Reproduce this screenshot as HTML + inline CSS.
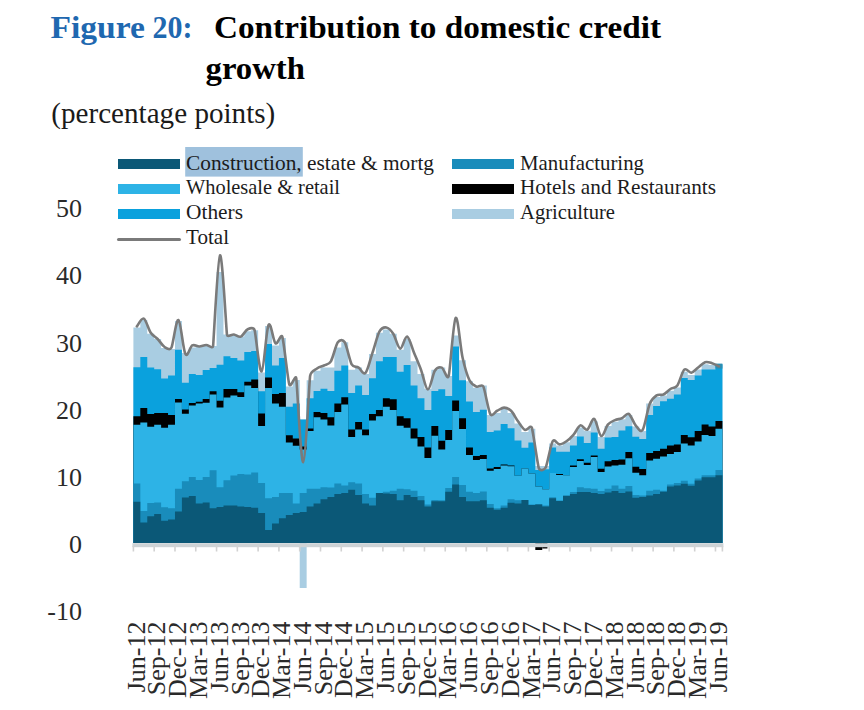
<!DOCTYPE html>
<html><head><meta charset="utf-8"><style>
html,body{margin:0;padding:0;background:#fff;width:864px;height:710px;overflow:hidden}
svg{display:block}
text{font-family:"Liberation Serif", serif}
</style></head><body>
<svg width="864" height="710" viewBox="0 0 864 710" font-family="Liberation Serif, serif" fill="#1c1c1c">
<rect width="864" height="710" fill="#fff"/>

<text x="50.4" y="37.7" font-size="32" font-weight="bold" fill="#1F68B0" textLength="94.5" lengthAdjust="spacingAndGlyphs">Figure</text><text x="152.5" y="37.7" font-size="32" font-weight="bold" fill="#1F68B0" textLength="40" lengthAdjust="spacingAndGlyphs">20:</text>
<text x="214" y="37.7" font-size="32" font-weight="bold" fill="#000" textLength="447" lengthAdjust="spacingAndGlyphs">Contribution to domestic credit</text>
<text x="205.5" y="79" font-size="32" font-weight="bold" fill="#000" textLength="99.5" lengthAdjust="spacingAndGlyphs">growth</text>
<text x="51.3" y="122.8" font-size="29" fill="#1a1a1a" textLength="224" lengthAdjust="spacingAndGlyphs">(percentage points)</text>


<rect x="185.2" y="147" width="117.6" height="29.6" fill="#9FC1DD"/>
<rect x="118" y="159" width="62" height="10" fill="#0B5877"/>
<rect x="118" y="184" width="62" height="10" fill="#2DB3E6"/>
<rect x="118" y="209" width="62" height="10" fill="#0AA1DD"/>
<rect x="117" y="238" width="64" height="3" rx="1.5" fill="#7A7A7A"/>
<rect x="452" y="159" width="62" height="10" fill="#198CBB"/>
<rect x="452" y="184" width="62" height="10" fill="#000"/>
<rect x="452" y="209" width="62" height="10" fill="#A9CDE2"/>
<text x="186" y="169.5" font-size="21" textLength="248" lengthAdjust="spacingAndGlyphs">Construction, estate &amp; mortg</text>
<text x="186" y="194" font-size="21" textLength="154" lengthAdjust="spacingAndGlyphs">Wholesale &amp; retail</text>
<text x="186" y="219" font-size="21" textLength="57" lengthAdjust="spacingAndGlyphs">Others</text>
<text x="186" y="244" font-size="21" textLength="43" lengthAdjust="spacingAndGlyphs">Total</text>
<text x="520" y="169.5" font-size="21" textLength="124" lengthAdjust="spacingAndGlyphs">Manufacturing</text>
<text x="520" y="194" font-size="21" textLength="196" lengthAdjust="spacingAndGlyphs">Hotels and Restaurants</text>
<text x="520" y="219" font-size="21" textLength="95" lengthAdjust="spacingAndGlyphs">Agriculture</text>

<text x="82" y="217.4" text-anchor="end" font-size="26" fill="#2a2a2a">50</text><text x="82" y="284.4" text-anchor="end" font-size="26" fill="#2a2a2a">40</text><text x="82" y="351.5" text-anchor="end" font-size="26" fill="#2a2a2a">30</text><text x="82" y="418.5" text-anchor="end" font-size="26" fill="#2a2a2a">20</text><text x="82" y="485.6" text-anchor="end" font-size="26" fill="#2a2a2a">10</text><text x="82" y="552.6" text-anchor="end" font-size="26" fill="#2a2a2a">0</text><text x="82" y="619.6" text-anchor="end" font-size="26" fill="#2a2a2a">-10</text>
<g><path d="M133.40,543.0L133.40,327.50L140.33,327.50L140.33,320.00L147.26,320.00L147.26,333.80L154.19,333.80L154.19,339.00L161.12,339.00L161.12,348.00L168.05,348.00L168.05,349.00L174.98,349.00L174.98,321.00L181.91,321.00L181.91,353.00L188.84,353.00L188.84,347.50L195.76,347.50L195.76,346.50L202.69,346.50L202.69,346.00L209.62,346.00L209.62,346.00L216.55,346.00L216.55,272.00L223.48,272.00L223.48,334.50L230.41,334.50L230.41,334.50L237.34,334.50L237.34,336.60L244.27,336.60L244.27,331.30L251.20,331.30L251.20,330.30L258.13,330.30L258.13,372.50L265.06,372.50L265.06,326.00L271.99,326.00L271.99,345.40L278.92,345.40L278.92,338.00L285.85,338.00L285.85,386.60L292.78,386.60L292.78,380.00L299.71,380.00L299.71,419.40L306.64,419.40L306.64,380.30L313.56,380.30L313.56,370.80L320.49,370.80L320.49,367.60L327.42,367.60L327.42,367.60L334.35,367.60L334.35,347.50L341.28,347.50L341.28,342.30L348.21,342.30L348.21,369.70L355.14,369.70L355.14,367.60L362.07,367.60L362.07,374.00L369.00,374.00L369.00,353.90L375.93,353.90L375.93,332.70L382.86,332.70L382.86,329.60L389.79,329.60L389.79,333.80L396.72,333.80L396.72,349.70L403.65,349.70L403.65,339.00L410.58,339.00L410.58,361.30L417.51,361.30L417.51,374.00L424.44,374.00L424.44,388.70L431.36,388.70L431.36,369.70L438.29,369.70L438.29,367.60L445.22,367.60L445.22,376.00L452.15,376.00L452.15,335.50L459.08,335.50L459.08,360.20L466.01,360.20L466.01,381.30L472.94,381.30L472.94,387.70L479.87,387.70L479.87,385.40L486.80,385.40L486.80,415.00L493.73,415.00L493.73,412.90L500.66,412.90L500.66,408.70L507.59,408.70L507.59,412.90L514.52,412.90L514.52,423.50L521.45,423.50L521.45,431.90L528.38,431.90L528.38,428.70L535.31,428.70L535.31,466.00L542.24,466.00L542.24,466.00L549.16,466.00L549.16,443.40L556.09,443.40L556.09,445.50L563.02,445.50L563.02,442.30L569.95,442.30L569.95,436.00L576.88,436.00L576.88,427.50L583.81,427.50L583.81,430.70L590.74,430.70L590.74,421.20L597.67,421.20L597.67,437.00L604.60,437.00L604.60,426.00L611.53,426.00L611.53,421.80L618.46,421.80L618.46,419.20L625.39,419.20L625.39,415.00L632.32,415.00L632.32,426.60L639.25,426.60L639.25,430.90L646.18,430.90L646.18,403.40L653.11,403.40L653.11,397.00L660.04,397.00L660.04,395.40L666.96,395.40L666.96,390.70L673.89,390.70L673.89,387.50L680.82,387.50L680.82,371.70L687.75,371.70L687.75,374.90L694.68,374.90L694.68,369.60L701.61,369.60L701.61,364.30L708.54,364.30L708.54,365.00L715.47,365.00L715.47,364.30L722.40,364.30L722.40,543.0Z" fill="#A9CDE2"/><path d="M133.40,543.0L133.40,367.20L140.33,367.20L140.33,357.00L147.26,357.00L147.26,367.60L154.19,367.60L154.19,369.30L161.12,369.30L161.12,378.60L168.05,378.60L168.05,375.60L174.98,375.60L174.98,349.70L181.91,349.70L181.91,382.80L188.84,382.80L188.84,374.00L195.76,374.00L195.76,375.00L202.69,375.00L202.69,370.00L209.62,370.00L209.62,368.00L216.55,368.00L216.55,364.80L223.48,364.80L223.48,356.30L230.41,356.30L230.41,358.00L237.34,358.00L237.34,360.60L244.27,360.60L244.27,352.00L251.20,352.00L251.20,351.00L258.13,351.00L258.13,391.20L265.06,391.20L265.06,344.00L271.99,344.00L271.99,365.50L278.92,365.50L278.92,358.00L285.85,358.00L285.85,406.70L292.78,406.70L292.78,403.50L299.71,403.50L299.71,419.40L306.64,419.40L306.64,398.20L313.56,398.20L313.56,390.90L320.49,390.90L320.49,388.70L327.42,388.70L327.42,390.90L334.35,390.90L334.35,370.80L341.28,370.80L341.28,365.50L348.21,365.50L348.21,393.00L355.14,393.00L355.14,385.60L362.07,385.60L362.07,395.00L369.00,395.00L369.00,378.20L375.93,378.20L375.93,361.30L382.86,361.30L382.86,357.00L389.79,357.00L389.79,357.00L396.72,357.00L396.72,371.80L403.65,371.80L403.65,365.00L410.58,365.00L410.58,385.60L417.51,385.60L417.51,398.20L424.44,398.20L424.44,409.90L431.36,409.90L431.36,390.90L438.29,390.90L438.29,389.20L445.22,389.20L445.22,396.10L452.15,396.10L452.15,346.50L459.08,346.50L459.08,380.30L466.01,380.30L466.01,401.40L472.94,401.40L472.94,412.00L479.87,412.00L479.87,409.70L486.80,409.70L486.80,431.90L493.73,431.90L493.73,430.40L500.66,430.40L500.66,424.00L507.59,424.00L507.59,428.30L514.52,428.30L514.52,440.40L521.45,440.40L521.45,447.80L528.38,447.80L528.38,442.50L535.31,442.50L535.31,470.00L542.24,470.00L542.24,469.30L549.16,469.30L549.16,447.60L556.09,447.60L556.09,451.80L563.02,451.80L563.02,451.80L569.95,451.80L569.95,445.50L576.88,445.50L576.88,436.60L583.81,436.60L583.81,443.00L590.74,443.00L590.74,432.40L597.67,432.40L597.67,448.70L604.60,448.70L604.60,437.50L611.53,437.50L611.53,437.00L618.46,437.00L618.46,430.40L625.39,430.40L625.39,426.20L632.32,426.20L632.32,436.80L639.25,436.80L639.25,438.90L646.18,438.90L646.18,415.00L653.11,415.00L653.11,405.90L660.04,405.90L660.04,401.30L666.96,401.30L666.96,398.70L673.89,398.70L673.89,394.50L680.82,394.50L680.82,378.00L687.75,378.00L687.75,380.10L694.68,380.10L694.68,375.50L701.61,375.50L701.61,369.60L708.54,369.60L708.54,369.60L715.47,369.60L715.47,364.30L722.40,364.30L722.40,543.0Z" fill="#0AA1DD"/><path d="M133.40,543.0L133.40,416.20L140.33,416.20L140.33,408.00L147.26,408.00L147.26,414.00L154.19,414.00L154.19,413.00L161.12,413.00L161.12,413.00L168.05,413.00L168.05,415.00L174.98,415.00L174.98,398.90L181.91,398.90L181.91,409.40L188.84,409.40L188.84,403.00L195.76,403.00L195.76,401.80L202.69,401.80L202.69,399.00L209.62,399.00L209.62,391.20L216.55,391.20L216.55,400.70L223.48,400.70L223.48,389.00L230.41,389.00L230.41,389.00L237.34,389.00L237.34,392.30L244.27,392.30L244.27,381.70L251.20,381.70L251.20,379.60L258.13,379.60L258.13,413.40L265.06,413.40L265.06,377.50L271.99,377.50L271.99,394.00L278.92,394.00L278.92,393.00L285.85,393.00L285.85,435.20L292.78,435.20L292.78,438.40L299.71,438.40L299.71,446.40L306.64,446.40L306.64,428.50L313.56,428.50L313.56,412.00L320.49,412.00L320.49,413.00L327.42,413.00L327.42,417.30L334.35,417.30L334.35,403.50L341.28,403.50L341.28,397.20L348.21,397.20L348.21,429.50L355.14,429.50L355.14,422.00L362.07,422.00L362.07,429.50L369.00,429.50L369.00,414.00L375.93,414.00L375.93,409.90L382.86,409.90L382.86,398.20L389.79,398.20L389.79,399.30L396.72,399.30L396.72,416.20L403.65,416.20L403.65,418.30L410.58,418.30L410.58,428.50L417.51,428.50L417.51,436.90L424.44,436.90L424.44,447.50L431.36,447.50L431.36,426.00L438.29,426.00L438.29,440.70L445.22,440.70L445.22,430.10L452.15,430.10L452.15,400.40L459.08,400.40L459.08,418.30L466.01,418.30L466.01,447.50L472.94,447.50L472.94,456.00L479.87,456.00L479.87,454.90L486.80,454.90L486.80,468.60L493.73,468.60L493.73,466.90L500.66,466.90L500.66,464.40L507.59,464.40L507.59,465.40L514.52,465.40L514.52,475.80L521.45,475.80L521.45,468.50L528.38,468.50L528.38,473.50L535.31,473.50L535.31,486.50L542.24,486.50L542.24,489.30L549.16,489.30L549.16,473.00L556.09,473.00L556.09,474.00L563.02,474.00L563.02,475.20L569.95,475.20L569.95,465.60L576.88,465.60L576.88,459.20L583.81,459.20L583.81,462.80L590.74,462.80L590.74,455.60L597.67,455.60L597.67,468.70L604.60,468.70L604.60,461.30L611.53,461.30L611.53,459.90L618.46,459.90L618.46,459.40L625.39,459.40L625.39,452.00L632.32,452.00L632.32,466.80L639.25,466.80L639.25,468.90L646.18,468.90L646.18,453.00L653.11,453.00L653.11,450.90L660.04,450.90L660.04,448.80L666.96,448.80L666.96,445.60L673.89,445.60L673.89,444.60L680.82,444.60L680.82,435.00L687.75,435.00L687.75,437.20L694.68,437.20L694.68,430.90L701.61,430.90L701.61,424.50L708.54,424.50L708.54,426.60L715.47,426.60L715.47,421.00L722.40,421.00L722.40,543.0Z" fill="#000000"/><path d="M133.40,543.0L133.40,424.70L140.33,424.70L140.33,422.50L147.26,422.50L147.26,426.80L154.19,426.80L154.19,424.70L161.12,424.70L161.12,427.80L168.05,427.80L168.05,424.70L174.98,424.70L174.98,402.50L181.91,402.50L181.91,413.70L188.84,413.70L188.84,405.60L195.76,405.60L195.76,403.50L202.69,403.50L202.69,402.80L209.62,402.80L209.62,394.40L216.55,394.40L216.55,407.50L223.48,407.50L223.48,397.50L230.41,397.50L230.41,395.40L237.34,395.40L237.34,397.00L244.27,397.00L244.27,385.50L251.20,385.50L251.20,388.00L258.13,388.00L258.13,426.00L265.06,426.00L265.06,388.00L271.99,388.00L271.99,403.50L278.92,403.50L278.92,406.70L285.85,406.70L285.85,442.50L292.78,442.50L292.78,445.80L299.71,445.80L299.71,449.60L306.64,449.60L306.64,431.00L313.56,431.00L313.56,417.30L320.49,417.30L320.49,419.40L327.42,419.40L327.42,425.50L334.35,425.50L334.35,412.00L341.28,412.00L341.28,404.60L348.21,404.60L348.21,437.00L355.14,437.00L355.14,429.50L362.07,429.50L362.07,435.20L369.00,435.20L369.00,420.40L375.93,420.40L375.93,416.20L382.86,416.20L382.86,406.70L389.79,406.70L389.79,409.90L396.72,409.90L396.72,425.70L403.65,425.70L403.65,427.80L410.58,427.80L410.58,438.60L417.51,438.60L417.51,446.40L424.44,446.40L424.44,458.00L431.36,458.00L431.36,435.80L438.29,435.80L438.29,449.60L445.22,449.60L445.22,440.00L452.15,440.00L452.15,410.90L459.08,410.90L459.08,428.90L466.01,428.90L466.01,454.90L472.94,454.90L472.94,460.10L479.87,460.10L479.87,459.10L486.80,459.10L486.80,470.70L493.73,470.70L493.73,469.00L500.66,469.00L500.66,465.60L507.59,465.60L507.59,466.20L514.52,466.20L514.52,475.80L521.45,475.80L521.45,468.50L528.38,468.50L528.38,473.50L535.31,473.50L535.31,486.50L542.24,486.50L542.24,489.30L549.16,489.30L549.16,473.00L556.09,473.00L556.09,475.00L563.02,475.00L563.02,475.20L569.95,475.20L569.95,467.00L576.88,467.00L576.88,461.00L583.81,461.00L583.81,465.00L590.74,465.00L590.74,457.10L597.67,457.10L597.67,471.90L604.60,471.90L604.60,466.60L611.53,466.60L611.53,465.60L618.46,465.60L618.46,464.70L625.39,464.70L625.39,458.30L632.32,458.30L632.32,472.70L639.25,472.70L639.25,475.20L646.18,475.20L646.18,460.40L653.11,460.40L653.11,458.70L660.04,458.70L660.04,456.60L666.96,456.60L666.96,454.10L673.89,454.10L673.89,452.00L680.82,452.00L680.82,443.50L687.75,443.50L687.75,445.60L694.68,445.60L694.68,441.40L701.61,441.40L701.61,435.00L708.54,435.00L708.54,436.10L715.47,436.10L715.47,428.70L722.40,428.70L722.40,543.0Z" fill="#2DB3E6"/><path d="M133.40,543.0L133.40,483.50L140.33,483.50L140.33,511.00L147.26,511.00L147.26,503.00L154.19,503.00L154.19,502.50L161.12,502.50L161.12,507.30L168.05,507.30L168.05,508.20L174.98,508.20L174.98,488.70L181.91,488.70L181.91,481.30L188.84,481.30L188.84,477.00L195.76,477.00L195.76,480.00L202.69,480.00L202.69,477.00L209.62,477.00L209.62,470.30L216.55,470.30L216.55,487.20L223.48,487.20L223.48,480.20L230.41,480.20L230.41,475.40L237.34,475.40L237.34,473.90L244.27,473.90L244.27,474.50L251.20,474.50L251.20,472.40L258.13,472.40L258.13,483.00L265.06,483.00L265.06,498.20L271.99,498.20L271.99,497.00L278.92,497.00L278.92,492.90L285.85,492.90L285.85,492.90L292.78,492.90L292.78,503.50L299.71,503.50L299.71,492.90L306.64,492.90L306.64,488.70L313.56,488.70L313.56,488.70L320.49,488.70L320.49,487.20L327.42,487.20L327.42,487.60L334.35,487.60L334.35,483.40L341.28,483.40L341.28,485.50L348.21,485.50L348.21,482.30L355.14,482.30L355.14,483.40L362.07,483.40L362.07,494.00L369.00,494.00L369.00,497.80L375.93,497.80L375.93,492.90L382.86,492.90L382.86,491.80L389.79,491.80L389.79,490.80L396.72,490.80L396.72,488.70L403.65,488.70L403.65,489.30L410.58,489.30L410.58,490.80L417.51,490.80L417.51,496.00L424.44,496.00L424.44,504.50L431.36,504.50L431.36,499.90L438.29,499.90L438.29,500.30L445.22,500.30L445.22,488.00L452.15,488.00L452.15,477.00L459.08,477.00L459.08,485.00L466.01,485.00L466.01,491.80L472.94,491.80L472.94,492.90L479.87,492.90L479.87,491.40L486.80,491.40L486.80,504.00L493.73,504.00L493.73,508.30L500.66,508.30L500.66,505.60L507.59,505.60L507.59,499.20L514.52,499.20L514.52,500.30L521.45,500.30L521.45,499.90L528.38,499.90L528.38,504.50L535.31,504.50L535.31,504.00L542.24,504.00L542.24,505.60L549.16,505.60L549.16,497.30L556.09,497.30L556.09,500.40L563.02,500.40L563.02,495.80L569.95,495.80L569.95,492.00L576.88,492.00L576.88,487.30L583.81,487.30L583.81,488.20L590.74,488.20L590.74,488.80L597.67,488.80L597.67,491.00L604.60,491.00L604.60,488.80L611.53,488.80L611.53,485.60L618.46,485.60L618.46,488.70L625.39,488.70L625.39,485.90L632.32,485.90L632.32,495.00L639.25,495.00L639.25,495.60L646.18,495.60L646.18,490.80L653.11,490.80L653.11,489.70L660.04,489.70L660.04,490.80L666.96,490.80L666.96,484.40L673.89,484.40L673.89,483.00L680.82,483.00L680.82,480.80L687.75,480.80L687.75,483.70L694.68,483.70L694.68,478.40L701.61,478.40L701.61,475.20L708.54,475.20L708.54,475.20L715.47,475.20L715.47,470.00L722.40,470.00L722.40,543.0Z" fill="#198CBB"/><path d="M133.40,543.0L133.40,501.80L140.33,501.80L140.33,522.50L147.26,522.50L147.26,516.20L154.19,516.20L154.19,514.00L161.12,514.00L161.12,520.80L168.05,520.80L168.05,519.40L174.98,519.40L174.98,511.60L181.91,511.60L181.91,497.60L188.84,497.60L188.84,496.10L195.76,496.10L195.76,503.50L202.69,503.50L202.69,502.40L209.62,502.40L209.62,508.30L216.55,508.30L216.55,507.00L223.48,507.00L223.48,505.60L230.41,505.60L230.41,505.60L237.34,505.60L237.34,506.60L244.27,506.60L244.27,507.00L251.20,507.00L251.20,507.70L258.13,507.70L258.13,513.00L265.06,513.00L265.06,529.90L271.99,529.90L271.99,523.50L278.92,523.50L278.92,518.20L285.85,518.20L285.85,515.00L292.78,515.00L292.78,513.00L299.71,513.00L299.71,512.00L306.64,512.00L306.64,506.60L313.56,506.60L313.56,503.50L320.49,503.50L320.49,499.20L327.42,499.20L327.42,497.00L334.35,497.00L334.35,494.00L341.28,494.00L341.28,492.90L348.21,492.90L348.21,489.70L355.14,489.70L355.14,495.00L362.07,495.00L362.07,503.50L369.00,503.50L369.00,505.60L375.93,505.60L375.93,492.90L382.86,492.90L382.86,493.50L389.79,493.50L389.79,494.00L396.72,494.00L396.72,500.30L403.65,500.30L403.65,495.00L410.58,495.00L410.58,497.00L417.51,497.00L417.51,500.30L424.44,500.30L424.44,506.60L431.36,506.60L431.36,501.30L438.29,501.30L438.29,501.30L445.22,501.30L445.22,491.80L452.15,491.80L452.15,484.40L459.08,484.40L459.08,497.00L466.01,497.00L466.01,501.30L472.94,501.30L472.94,501.30L479.87,501.30L479.87,500.30L486.80,500.30L486.80,507.70L493.73,507.70L493.73,509.80L500.66,509.80L500.66,507.70L507.59,507.70L507.59,502.80L514.52,502.80L514.52,503.50L521.45,503.50L521.45,499.90L528.38,499.90L528.38,504.90L535.31,504.90L535.31,504.50L542.24,504.50L542.24,506.60L549.16,506.60L549.16,498.30L556.09,498.30L556.09,500.90L563.02,500.90L563.02,495.80L569.95,495.80L569.95,494.10L576.88,494.10L576.88,492.00L583.81,492.00L583.81,492.00L590.74,492.00L590.74,493.00L597.67,493.00L597.67,494.10L604.60,494.10L604.60,492.40L611.53,492.40L611.53,491.00L618.46,491.00L618.46,492.90L625.39,492.90L625.39,491.40L632.32,491.40L632.32,497.80L639.25,497.80L639.25,497.10L646.18,497.10L646.18,495.60L653.11,495.60L653.11,494.00L660.04,494.00L660.04,491.80L666.96,491.80L666.96,486.60L673.89,486.60L673.89,485.50L680.82,485.50L680.82,483.80L687.75,483.80L687.75,485.80L694.68,485.80L694.68,480.50L701.61,480.50L701.61,477.30L708.54,477.30L708.54,477.30L715.47,477.30L715.47,475.20L722.40,475.20L722.40,543.0Z" fill="#0B5877"/></g>
<rect x="299.71" y="543.0" width="6.93" height="45" fill="#A9CDE2"/><rect x="535.31" y="543.0" width="6.93" height="7" fill="#000"/><rect x="542.24" y="543.0" width="5.20" height="5.5" fill="#000"/><rect x="715.47" y="363.6" width="6.93" height="5" fill="#2C8FB3"/>
<rect x="132.40" y="543.2" width="591.00" height="4" fill="#CDD3D6"/><rect x="132.60" y="546" width="1.6" height="5.5" fill="#D2D2D2"/><rect x="153.39" y="546" width="1.6" height="5.5" fill="#D2D2D2"/><rect x="174.18" y="546" width="1.6" height="5.5" fill="#D2D2D2"/><rect x="194.96" y="546" width="1.6" height="5.5" fill="#D2D2D2"/><rect x="215.75" y="546" width="1.6" height="5.5" fill="#D2D2D2"/><rect x="236.54" y="546" width="1.6" height="5.5" fill="#D2D2D2"/><rect x="257.33" y="546" width="1.6" height="5.5" fill="#D2D2D2"/><rect x="278.12" y="546" width="1.6" height="5.5" fill="#D2D2D2"/><rect x="298.91" y="546" width="1.6" height="5.5" fill="#D2D2D2"/><rect x="319.69" y="546" width="1.6" height="5.5" fill="#D2D2D2"/><rect x="340.48" y="546" width="1.6" height="5.5" fill="#D2D2D2"/><rect x="361.27" y="546" width="1.6" height="5.5" fill="#D2D2D2"/><rect x="382.06" y="546" width="1.6" height="5.5" fill="#D2D2D2"/><rect x="402.85" y="546" width="1.6" height="5.5" fill="#D2D2D2"/><rect x="423.64" y="546" width="1.6" height="5.5" fill="#D2D2D2"/><rect x="444.42" y="546" width="1.6" height="5.5" fill="#D2D2D2"/><rect x="465.21" y="546" width="1.6" height="5.5" fill="#D2D2D2"/><rect x="486.00" y="546" width="1.6" height="5.5" fill="#D2D2D2"/><rect x="506.79" y="546" width="1.6" height="5.5" fill="#D2D2D2"/><rect x="527.58" y="546" width="1.6" height="5.5" fill="#D2D2D2"/><rect x="548.36" y="546" width="1.6" height="5.5" fill="#D2D2D2"/><rect x="569.15" y="546" width="1.6" height="5.5" fill="#D2D2D2"/><rect x="589.94" y="546" width="1.6" height="5.5" fill="#D2D2D2"/><rect x="610.73" y="546" width="1.6" height="5.5" fill="#D2D2D2"/><rect x="631.52" y="546" width="1.6" height="5.5" fill="#D2D2D2"/><rect x="652.31" y="546" width="1.6" height="5.5" fill="#D2D2D2"/><rect x="673.09" y="546" width="1.6" height="5.5" fill="#D2D2D2"/><rect x="693.88" y="546" width="1.6" height="5.5" fill="#D2D2D2"/><rect x="714.67" y="546" width="1.6" height="5.5" fill="#D2D2D2"/><rect x="721.60" y="546" width="1.6" height="5.5" fill="#D2D2D2"/>
<path d="M136.86,326.40C138.02,325.10 141.48,317.55 143.79,318.60C146.10,319.65 148.41,329.30 150.72,332.70C153.03,336.10 155.34,336.62 157.65,339.00C159.96,341.38 162.27,345.58 164.58,347.00C166.89,348.42 169.93,350.59 171.51,347.50C173.10,344.41 176.13,318.93 178.44,320.00C180.75,321.07 183.06,349.67 185.37,353.90C187.68,358.13 189.99,346.63 192.30,345.40C194.61,344.17 196.92,346.57 199.23,346.50C201.54,346.43 203.85,345.08 206.16,345.00C208.47,344.92 212.55,349.46 213.09,346.00C213.62,342.54 217.71,257.22 220.02,255.30C222.33,253.38 226.35,331.09 226.95,334.50C227.54,337.91 231.57,334.15 233.88,334.50C236.19,334.85 238.50,337.48 240.81,336.60C243.12,335.72 245.43,330.25 247.74,329.20C250.05,328.15 253.57,326.97 254.66,330.30C255.76,333.63 259.28,372.38 261.59,371.50C263.90,370.62 266.21,329.70 268.52,325.00C270.83,320.30 273.14,341.30 275.45,343.30C277.76,345.30 280.89,332.56 282.38,337.00C283.88,341.44 287.82,380.06 289.31,384.50C290.80,388.94 295.42,373.59 296.24,378.20C297.06,382.81 300.86,462.67 303.17,462.30C305.48,461.93 309.35,381.05 310.10,376.00C310.85,370.95 314.72,370.25 317.03,368.50C319.34,366.75 321.65,366.70 323.96,365.50C326.27,364.30 328.81,364.78 330.89,361.30C332.97,357.82 335.78,345.10 337.82,342.30C339.86,339.50 342.91,339.36 344.75,342.30C346.59,345.24 349.84,361.05 351.68,364.40C353.51,367.75 356.30,366.18 358.61,367.60C360.92,369.02 363.23,375.37 365.54,372.90C367.85,370.43 370.15,359.67 372.46,352.80C374.77,345.93 377.45,335.25 379.39,331.70C381.34,328.15 384.01,327.15 386.32,327.50C388.63,327.85 390.94,330.28 393.25,333.80C395.56,337.32 397.87,348.15 400.18,348.60C402.49,349.05 404.80,335.80 407.11,336.50C409.42,337.20 411.73,347.27 414.04,352.80C416.35,358.33 418.66,363.58 420.97,369.70C423.28,375.82 425.59,389.32 427.90,389.50C430.21,389.68 432.79,374.02 434.83,370.80C436.87,367.58 439.45,366.73 441.76,367.60C444.07,368.47 447.22,381.24 448.69,376.00C450.15,370.76 453.31,321.08 455.62,318.00C457.93,314.92 460.24,347.12 462.55,357.50C464.86,367.88 467.46,376.07 469.48,380.30C471.49,384.53 474.10,385.57 476.41,386.60C478.72,387.63 481.77,383.41 483.34,386.50C484.90,389.59 488.37,410.68 490.26,414.00C492.16,417.32 494.88,411.87 497.19,410.80C499.50,409.73 501.81,407.60 504.12,407.60C506.43,407.60 508.74,408.52 511.05,410.80C513.36,413.08 515.67,418.13 517.98,421.30C520.29,424.47 522.60,428.73 524.91,429.80C527.22,430.87 530.61,424.30 531.84,427.70C533.08,431.10 537.63,464.72 538.77,468.00C539.91,471.28 544.10,470.58 545.70,467.50C547.30,464.42 550.68,444.55 552.63,441.30C554.58,438.05 557.25,444.40 559.56,444.40C561.87,444.40 564.18,442.88 566.49,441.30C568.80,439.72 571.11,437.55 573.42,434.90C575.73,432.25 578.04,426.27 580.35,425.40C582.66,424.53 584.97,430.77 587.28,429.70C589.59,428.63 591.90,417.95 594.21,419.00C596.52,420.05 598.83,435.10 601.14,436.00C603.45,436.90 605.75,427.05 608.06,424.40C610.37,421.75 612.68,421.13 614.99,420.10C617.30,419.07 619.61,419.22 621.92,418.20C624.23,417.18 626.54,412.77 628.85,414.00C631.16,415.23 633.47,422.97 635.78,425.60C638.09,428.23 640.52,433.21 642.71,429.80C644.90,426.39 647.58,409.12 649.64,404.00C651.70,398.88 654.26,396.98 656.57,395.40C658.88,393.82 661.19,395.57 663.50,394.50C665.81,393.43 668.12,390.52 670.43,389.00C672.74,387.48 675.09,388.58 677.36,385.40C679.63,382.22 681.98,371.72 684.29,369.60C686.60,367.48 688.91,373.05 691.22,372.70C693.53,372.35 695.84,369.25 698.15,367.50C700.46,365.75 702.77,362.92 705.08,362.20C707.39,361.48 709.70,362.50 712.01,363.20C714.32,363.90 717.78,365.87 718.94,366.40" fill="none" stroke="#7A7A7A" stroke-width="2.6" stroke-linejoin="round" stroke-linecap="round"/>
<text transform="translate(144.60,621.5) rotate(-90) scale(1.04,1)" text-anchor="end" font-size="25" fill="#2a2a2a">Jun-12</text><text transform="translate(165.39,621.5) rotate(-90) scale(1.04,1)" text-anchor="end" font-size="25" fill="#2a2a2a">Sep-12</text><text transform="translate(186.18,621.5) rotate(-90) scale(1.04,1)" text-anchor="end" font-size="25" fill="#2a2a2a">Dec-12</text><text transform="translate(206.96,621.5) rotate(-90) scale(1.04,1)" text-anchor="end" font-size="25" fill="#2a2a2a">Mar-13</text><text transform="translate(227.75,621.5) rotate(-90) scale(1.04,1)" text-anchor="end" font-size="25" fill="#2a2a2a">Jun-13</text><text transform="translate(248.54,621.5) rotate(-90) scale(1.04,1)" text-anchor="end" font-size="25" fill="#2a2a2a">Sep-13</text><text transform="translate(269.33,621.5) rotate(-90) scale(1.04,1)" text-anchor="end" font-size="25" fill="#2a2a2a">Dec-13</text><text transform="translate(290.12,621.5) rotate(-90) scale(1.04,1)" text-anchor="end" font-size="25" fill="#2a2a2a">Mar-14</text><text transform="translate(310.91,621.5) rotate(-90) scale(1.04,1)" text-anchor="end" font-size="25" fill="#2a2a2a">Jun-14</text><text transform="translate(331.69,621.5) rotate(-90) scale(1.04,1)" text-anchor="end" font-size="25" fill="#2a2a2a">Sep-14</text><text transform="translate(352.48,621.5) rotate(-90) scale(1.04,1)" text-anchor="end" font-size="25" fill="#2a2a2a">Dec-14</text><text transform="translate(373.27,621.5) rotate(-90) scale(1.04,1)" text-anchor="end" font-size="25" fill="#2a2a2a">Mar-15</text><text transform="translate(394.06,621.5) rotate(-90) scale(1.04,1)" text-anchor="end" font-size="25" fill="#2a2a2a">Jun-15</text><text transform="translate(414.85,621.5) rotate(-90) scale(1.04,1)" text-anchor="end" font-size="25" fill="#2a2a2a">Sep-15</text><text transform="translate(435.64,621.5) rotate(-90) scale(1.04,1)" text-anchor="end" font-size="25" fill="#2a2a2a">Dec-15</text><text transform="translate(456.42,621.5) rotate(-90) scale(1.04,1)" text-anchor="end" font-size="25" fill="#2a2a2a">Mar-16</text><text transform="translate(477.21,621.5) rotate(-90) scale(1.04,1)" text-anchor="end" font-size="25" fill="#2a2a2a">Jun-16</text><text transform="translate(498.00,621.5) rotate(-90) scale(1.04,1)" text-anchor="end" font-size="25" fill="#2a2a2a">Sep-16</text><text transform="translate(518.79,621.5) rotate(-90) scale(1.04,1)" text-anchor="end" font-size="25" fill="#2a2a2a">Dec-16</text><text transform="translate(539.58,621.5) rotate(-90) scale(1.04,1)" text-anchor="end" font-size="25" fill="#2a2a2a">Mar-17</text><text transform="translate(560.36,621.5) rotate(-90) scale(1.04,1)" text-anchor="end" font-size="25" fill="#2a2a2a">Jun-17</text><text transform="translate(581.15,621.5) rotate(-90) scale(1.04,1)" text-anchor="end" font-size="25" fill="#2a2a2a">Sep-17</text><text transform="translate(601.94,621.5) rotate(-90) scale(1.04,1)" text-anchor="end" font-size="25" fill="#2a2a2a">Dec-17</text><text transform="translate(622.73,621.5) rotate(-90) scale(1.04,1)" text-anchor="end" font-size="25" fill="#2a2a2a">Mar-18</text><text transform="translate(643.52,621.5) rotate(-90) scale(1.04,1)" text-anchor="end" font-size="25" fill="#2a2a2a">Jun-18</text><text transform="translate(664.31,621.5) rotate(-90) scale(1.04,1)" text-anchor="end" font-size="25" fill="#2a2a2a">Sep-18</text><text transform="translate(685.09,621.5) rotate(-90) scale(1.04,1)" text-anchor="end" font-size="25" fill="#2a2a2a">Dec-18</text><text transform="translate(705.88,621.5) rotate(-90) scale(1.04,1)" text-anchor="end" font-size="25" fill="#2a2a2a">Mar-19</text><text transform="translate(726.67,621.5) rotate(-90) scale(1.04,1)" text-anchor="end" font-size="25" fill="#2a2a2a">Jun-19</text>
</svg>
</body></html>
